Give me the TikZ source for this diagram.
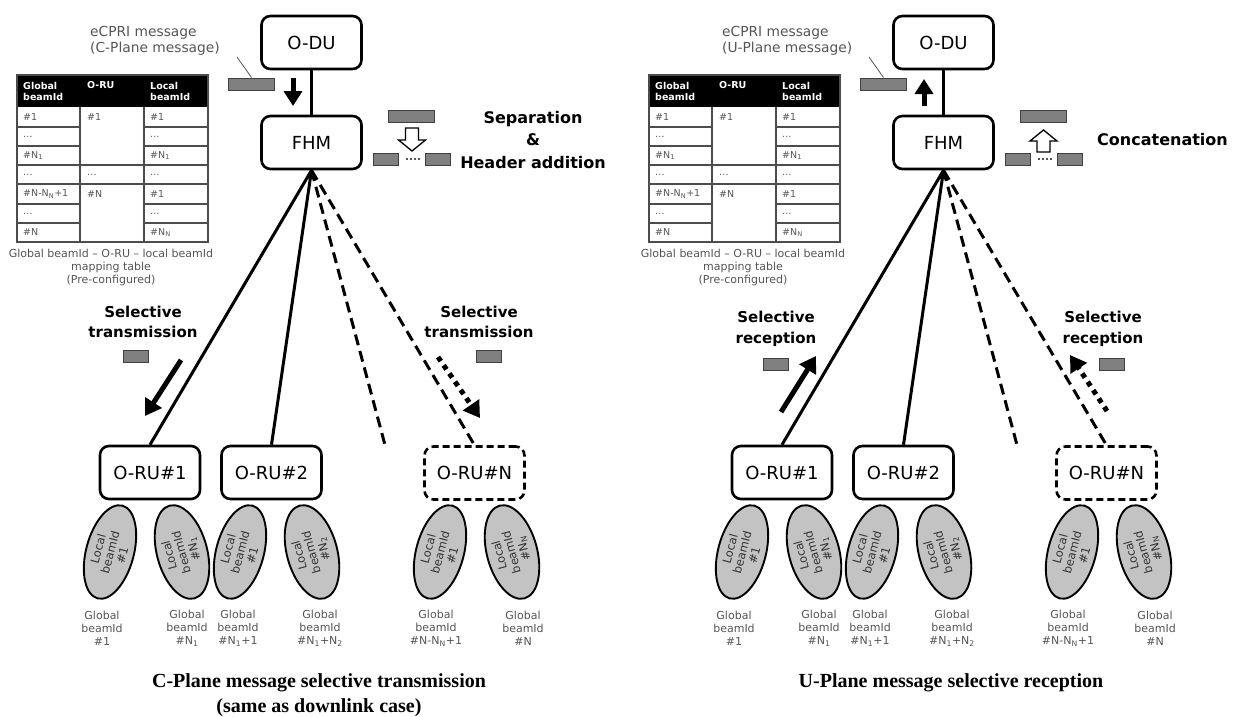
\documentclass[tikz,border=0pt]{standalone}
\usepackage{fontspec}
\setmainfont{DejaVu Sans}
\newfontfamily\capfont{Liberation Serif}
\usetikzlibrary{arrows.meta,shapes.geometric}
\definecolor{msggray}{HTML}{808080}
\definecolor{txtgray}{HTML}{555555}
\definecolor{beamgray}{HTML}{C3C3C3}
\begin{document}
\begin{tikzpicture}[x=1pt,y=-1pt,
  unit/.style={draw, line width=2.6pt, rounded corners=9pt, minimum width=100pt, minimum height=53pt, font=\fontsize{18}{20}\selectfont},
  msg/.style={draw=black!75, fill=msggray, line width=1pt, minimum width=46pt, minimum height=12pt, inner sep=0pt},
  smallmsg/.style={msg, minimum width=25pt},
  beam/.style={ellipse, draw, line width=1.9pt, fill=beamgray, minimum width=96pt, minimum height=47pt, inner sep=0pt, align=center, text=black!80, font=\fontsize{11.5}{12.5}\selectfont},
  link/.style={line width=3pt},
  dlink/.style={link, dash pattern=on 11pt off 6pt},
  flow/.style={line width=5pt, -{Triangle[length=16pt,width=19pt]}},
  dflow/.style={flow, dash pattern=on 5pt off 5pt},
  grid/.style={draw=black!70, line width=1.3pt},
  thead/.style={anchor=west, text=white, align=left, inner sep=0pt, font=\bfseries\fontsize{9.5}{11}\selectfont},
  tcell/.style={anchor=west, text=txtgray, inner sep=0pt, font=\fontsize{9.5}{11}\selectfont},
  note/.style={text=txtgray, align=center, inner sep=0pt, font=\fontsize{11}{13}\selectfont},
  hollow/.style={draw, line width=1.3pt, fill=white, line join=miter},
  action/.style={align=center, inner sep=0pt, font=\bfseries\fontsize{15}{20.5}\selectfont},
  title/.style={align=center, inner sep=0pt, font=\capfont\bfseries\fontsize{20}{25}\selectfont}]
\useasboundingbox (0,0) rectangle (1238,716);

\foreach \dx/\p/\pl in {0/L/C,632/R/U}{
\begin{scope}[xshift=\dx, name prefix=\p-]
  \node[unit] (du) at (311.5,42.5) {O-DU};
  \node[unit] (fhm) at (311.5,142.5) {FHM};
  \node[unit] (ru1) at (150,472.5) {O-RU\#1};
  \node[unit] (ru2) at (271.5,472.5) {O-RU\#2};
  \node[unit, dash pattern=on 7pt off 4pt] (ruN) at (474.5,473) {O-RU\#N};
  \coordinate (gap) at (385,445);
  \draw[link] (du) -- (fhm);
  \draw[link] (fhm.south) -- (ru1.north) (fhm.south) -- (ru2.north);
  \draw[dlink] (fhm.south) -- (gap) (fhm.south) -- (ruN.north);

  \node[note, anchor=west, align=left, font=\fontsize{13.8}{16}\selectfont] (ecpri) at (90,41) {eCPRI message\\(\pl-Plane message)};
  \node[msg] (pkt) at (251.5,84) {};
  \coordinate (tag) at (237,57);
  \draw[txtgray, line width=0.8pt] (tag) -- (pkt.north);

  \node[msg] (whole) at (411.5,116.5) {};
  \node[smallmsg] (part1) at (386,159) {};
  \node[smallmsg] (part2) at (437.5,159) {};
  \draw[txtgray, line width=1.5pt, dash pattern=on 1.5pt off 2.5pt, shorten <=7pt, shorten >=5pt] (part1.east) -- (part2.west);

  \fill (17,75) rectangle (208,107);
  \draw[grid] (17,75) rectangle (208,242) (80,107) -- (80,242) (144,107) -- (144,242)
    (80,165) -- (144,165) (80,184) -- (144,184);
  \foreach \y in {127,146,165,184,204,223}
    \draw[grid] (17,\y) -- (80,\y) (144,\y) -- (208,\y);
  \node[thead] (h1) at (23,91) {Global\\beamId};
  \node[thead] (h2) at (87,85) {O-RU};
  \node[thead] (h3) at (150,91) {Local\\beamId};
  \foreach \y/\a/\b [count=\i] in {117/\#1/\#1, 136.5/…/…, 155.5/\#N\textsubscript{1}/\#N\textsubscript{1},
      174.5/…/…, 194/\#N-N\textsubscript{N}+1/\#1, 213.5/…/…, 232.5/\#N/\#N\textsubscript{N}}{
    \node[tcell] (ga\i) at (23,\y) {\a};
    \node[tcell] (lo\i) at (150,\y) {\b};
  }
  \node[tcell] (ru-a) at (87,117) {\#1};
  \node[tcell] (ru-b) at (87,174.5) {…};
  \node[tcell] (ru-c) at (87,194) {\#N};
  \node[note] (map) at (111,267) {Global beamId – O-RU – local beamId\\mapping table\\(Pre-configured)};

  \foreach \x/\r/\l [count=\i] in {110/75/\#1, 182/105/\#N\textsubscript{1}, 240/75/\#1,
      312/105/\#N\textsubscript{2}, 440/75/\#1, 512/105/\#N\textsubscript{N}}
    \node[beam, rotate=\r] (b\i) at (\x,552) {Local\\beamId\\\l};
  \foreach \x/\g [count=\i] in {102/\#1, 187/\#N\textsubscript{1}, 238/\#N\textsubscript{1}+1,
      320/\#N\textsubscript{1}+N\textsubscript{2}, 436/\#N-N\textsubscript{N}+1, 523/\#N}
    \node[note] (g\i) at (\x,628) {Global\\beamId\\\g};
\end{scope}}

% C-Plane: downlink direction
\coordinate (dn-a) at (293,78);
\coordinate (dn-b) at (293,106);
\draw[flow, -{Triangle[length=15pt,width=18pt]}] (dn-a) -- (dn-b);
\draw[hollow] (405.5,128) -- (418.5,128) -- (418.5,140) -- (425.5,140) -- (412,151) -- (398.5,140) -- (405.5,140) -- cycle;
\node[action, font=\bfseries\fontsize{16}{22.5}\selectfont] (sep) at (533,140) {Separation\\\&\\Header addition};
\node[action] (tx1) at (143,322) {Selective\\transmission};
\node[action] (tx2) at (479,322) {Selective\\transmission};
\node[smallmsg] (txm1) at (135.5,356) {};
\node[smallmsg] (txm2) at (489,356) {};
\coordinate (tx1-a) at (181,360);
\coordinate (tx1-b) at (145,416);
\coordinate (tx2-a) at (438,357);
\coordinate (tx2-b) at (480,418);
\draw[flow] (tx1-a) -- (tx1-b);
\draw[dflow] (tx2-a) -- (tx2-b);
\node[title] (ct) at (319,695.5) {C-Plane message selective transmission\\(same as downlink case)};

% U-Plane: uplink direction
\coordinate (up-a) at (924,106);
\coordinate (up-b) at (924,79);
\draw[flow, -{Triangle[length=15pt,width=18pt]}] (up-a) -- (up-b);
\draw[hollow] (1037,152) -- (1050,152) -- (1050,141) -- (1057,141) -- (1043.5,130) -- (1030,141) -- (1037,141) -- cycle;
\node[action, font=\bfseries\fontsize{16}{22.5}\selectfont, anchor=west] (cat) at (1097,140) {Concatenation};
\node[action] (rx1) at (776,329) {Selective\\reception};
\node[action] (rx2) at (1103,329) {Selective\\reception};
\node[smallmsg] (rxm1) at (776,364) {};
\node[smallmsg] (rxm2) at (1112,364) {};
\coordinate (rx1-a) at (781,412);
\coordinate (rx1-b) at (816,356);
\coordinate (rx2-a) at (1107,411);
\coordinate (rx2-b) at (1070,355);
\draw[flow] (rx1-a) -- (rx1-b);
\draw[dflow] (rx2-a) -- (rx2-b);
\node[title] (ut) at (951,683) {U-Plane message selective reception};
\end{tikzpicture}
\end{document}
